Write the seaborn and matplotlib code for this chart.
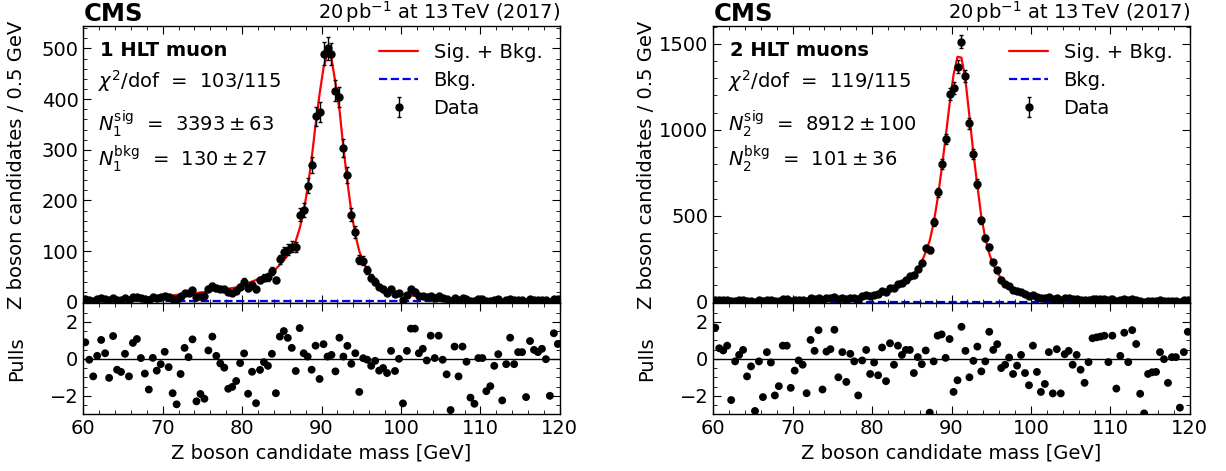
import numpy as np
import matplotlib
matplotlib.use("Agg")
import matplotlib.pyplot as plt
import seaborn as sns
from matplotlib.ticker import AutoMinorLocator, MultipleLocator
from matplotlib.lines import Line2D

# ---------------- data ----------------
mass_range = [60.0, 120.0]
bin_width = 0.5

data_1mu = [6, 4, 2, 5, 7, 6, 3, 8, 4, 4,
            7, 4, 9, 10, 8, 6, 4, 9, 8, 10,
            12, 10, 6, 5, 11, 18, 17, 23, 10, 12,
            12, 26, 32, 27, 26, 25, 20, 18, 21, 30,
            40, 27, 33, 25, 43, 47, 49, 60, 43, 84,
            99, 103, 109, 108, 172, 181, 229, 270, 366, 375,
            490, 500, 489, 417, 404, 303, 250, 172, 138, 83,
            81, 62, 47, 40, 30, 25, 18, 25, 16, 17,
            4, 14, 25, 20, 11, 11, 9, 12, 8, 11,
            7, 5, 1, 8, 4, 7, 5, 1, 1, 5,
            5, 1, 2, 4, 5, 0, 4, 6, 3, 4,
            4, 0, 5, 4, 4, 4, 3, 0, 6, 5]

fit_1mu = [4.1, 4.2, 4.4, 4.6, 4.8, 5.0, 5.2, 5.4, 5.6, 5.8,
           6.1, 6.5, 6.9, 7.4, 7.9, 8.4, 8.9, 9.4, 9.9, 10.5,
           11.2, 12.0, 12.7, 13.5, 14.3, 15.0, 15.7, 16.5, 17.4, 18.4,
           19.3, 20.4, 21.5, 22.7, 23.8, 25.0, 26.0, 27.0, 28.5, 31.0,
           34, 37, 40, 43, 47, 50, 54, 59, 65, 73,
           82, 92, 104, 120, 145, 178, 225, 282, 350, 410,
           462, 490, 480, 432, 380, 305, 237, 178, 132, 100,
           78, 62, 50, 41, 34, 28, 24, 21, 18.5, 16.5,
           15, 13.5, 12.5, 11.5, 10.6, 9.9, 9.3, 8.8, 8.3, 7.9,
           7.5, 7.1, 6.8, 6.5, 6.2, 5.9, 5.7, 5.5, 5.3, 5.1,
           4.9, 4.8, 4.6, 4.5, 4.4, 4.3, 4.2, 4.1, 4.0, 3.9,
           3.8, 3.7, 3.6, 3.6, 3.5, 3.4, 3.4, 3.3, 3.3, 3.2]

bkg_1mu = [1.1, 1.1]

pulls_1mu = [0.89, -0.05, -0.95, 0.16, 1.02, 0.3, -1.03, 1.23, -0.59, -0.71,
             0.27, -0.95, 0.86, 1.07, 0.04, -0.8, -1.66, 0.05, -0.64, -0.29,
             0.38, -0.45, -1.86, -2.46, -0.82, 0.59, 0.09, 1.05, -2.3, -1.9,
             -2.16, 0.45, 1.2, 0.16, -0.25, -0.48, -1.62, -1.52, -1.2, -0.23,
             0.29, -1.89, -0.7, -2.4, -0.6, -0.18, -0.38, 0.27, -1.86, 1.2,
             1.5, 1.13, 0.59, -0.66, 1.66, 0.3, 0.12, -0.59, 0.71, -1.09,
             0.79, 0.12, 0.21, -0.68, 1.14, 0.12, 0.7, -0.27, 0.3, -1.79,
             0.03, -0.05, -0.38, -0.11, -0.64, -0.5, -0.77, 0.43, -0.66, 0.0,
             -2.41, 0.43, 1.63, 1.63, 0.3, 0.54, -0.09, 1.25, 0.04, 1.25,
             -0.05, -0.84, -2.77, 0.66, -0.95, 0.66, -0.16, -2.1, -2.43, 0.04,
             0.04, -1.75, -1.48, -0.38, 0.25, -2.25, -0.29, 1.14, -0.29, 0.36,
             0.36, -2.07, 0.96, 0.48, 0.36, 0.54, -0.02, -2.0, 1.38, 0.8]

data_2mu = [11, 9, 8, 9, 2, 7, 9, 9, 6, 7,
            1, 9, 3, 11, 9, 4, 6, 14, 14, 7,
            11, 13, 13, 7, 19, 17, 22, 10, 19, 20,
            25, 15, 22, 16, 24, 24, 16, 31, 37, 33,
            42, 43, 61, 54, 80, 80, 102, 111, 129, 148,
            154, 193, 228, 312, 302, 463, 636, 802, 946, 1209,
            1242, 1368, 1513, 1314, 1039, 860, 686, 473, 370, 316,
            229, 186, 128, 105, 89, 70, 60, 57, 43, 33,
            41, 29, 20, 20, 27, 14, 23, 11, 19, 19,
            15, 16, 12, 9, 13, 17, 16, 16, 15, 10,
            14, 5, 10, 14, 9, 14, 11, 3, 0, 6,
            6, 6, 9, 7, 4, 7, 7, 0, 8, 10]

fit_2mu = [7, 7, 7, 7, 7.5, 7.5, 8, 8, 8.5, 8.5,
           9, 9, 9.5, 9.5, 10, 10.5, 11, 11.5, 12, 12.5,
           13, 13.5, 14, 14.5, 15, 15.5, 16, 16.5, 17, 17.5,
           18, 19, 20, 21.5, 23, 25, 28, 31, 34, 38,
           43, 49, 56, 64, 73, 83, 95, 109, 124, 142,
           164, 192, 232, 290, 355, 460, 600, 770, 955, 1150,
           1320, 1425, 1420, 1290, 1080, 865, 675, 495, 370, 280,
           215, 170, 136, 110, 90, 76, 64, 55, 48, 42,
           37, 33, 30, 27, 25, 23, 21, 19.5, 18, 17,
           16, 15.2, 14.5, 13.8, 13.2, 12.6, 12.1, 11.6, 11.2, 10.8,
           10.4, 10.1, 9.8, 9.5, 9.2, 9.0, 8.8, 8.6, 8.4, 8.2,
           8.0, 7.8, 7.6, 7.5, 7.3, 7.2, 7.0, 6.9, 6.8, 6.7]

bkg_2mu = [0.85, 0.85]

pulls_2mu = [1.68, 0.57, 0.45, 0.71, -2.23, -0.14, 0.21, 0.48, -0.95, -0.41,
             -2.82, -0.14, -2.07, 0.36, -0.2, -1.98, -1.48, 0.71, 0.71, -1.57,
             -0.64, -0.09, -0.32, -1.86, 1.02, 0.43, 1.55, -1.66, 0.39, 0.52,
             1.57, -1.0, 0.36, -1.25, 0.27, -0.14, -1.98, -0.09, 0.48, -0.82,
             -0.2, -0.89, 0.61, -1.21, 0.84, -0.32, 0.71, 0.21, 0.48, 0.48,
             -0.77, 0.09, -0.29, 0.45, -2.91, -0.14, 1.25, 1.32, 0.05, 1.07,
             -1.79, -1.16, 1.73, 0.43, -1.0, -0.11, 0.66, -0.68, -0.14, 1.46,
             0.48, 0.79, -0.5, -0.32, 0.07, -0.82, -0.37, 0.21, -0.77, -1.43,
             0.71, -0.71, -1.79, -1.36, 0.36, -1.87, 0.52, -1.87, 0.25, 0.43,
             -0.32, 0.21, -0.59, -1.3, -0.18, 1.11, 1.16, 1.2, 1.25, -0.18,
             1.25, -1.61, 0.16, 1.41, -0.18, 1.55, 0.8, -1.89, -2.95, -0.82,
             -0.73, -0.71, 0.36, -0.02, -1.3, 0.09, 0.09, -2.64, 0.36, 1.46]

panel_titles = ["1 HLT muon", "2 HLT muons"]
chi2_texts = ["103/115", "119/115"]
nsig_texts = [r"3393 \pm 63", r"8912 \pm 100"]
nbkg_texts = [r"130 \pm 27", r"101 \pm 36"]
index_labels = ["1", "2"]
ymax_main = [545, 1606]
ymajor_main = [100, 500]

# ---------------- style ----------------
sns.set_style("ticks")
plt.rcParams.update({
    "font.family": ["DejaVu Sans"],
    "mathtext.fontset": "dejavusans",
    "font.size": 14,
    "text.color": "black",
    "axes.labelcolor": "black",
    "axes.linewidth": 1.0,
    "xtick.direction": "in",
    "ytick.direction": "in",
    "xtick.top": True,
    "ytick.right": True,
    "xtick.major.size": 6,
    "ytick.major.size": 6,
    "xtick.minor.size": 3,
    "ytick.minor.size": 3,
    "xtick.color": "black",
    "ytick.color": "black",
    "axes.edgecolor": "black",
    "xtick.labelsize": 14,
    "ytick.labelsize": 14,
})

W, H = 1226, 471
fig = plt.figure(figsize=(W / 100, H / 100), dpi=100)

edges = np.linspace(mass_range[0], mass_range[1], int((mass_range[1] - mass_range[0]) / bin_width) + 1)
centers = 0.5 * (edges[:-1] + edges[1:])

panels = [
    (83.3, data_1mu, fit_1mu, bkg_1mu, pulls_1mu),
    (713.3, data_2mu, fit_2mu, bkg_2mu, pulls_2mu),
]

for i, (left_px, data, fit, bkg, pulls) in enumerate(panels):
    width_px = 476.5
    ax = fig.add_axes([left_px / W, (H - 303.3) / H, width_px / W, (303.3 - 25.7) / H])
    axp = fig.add_axes([left_px / W, (H - 414.3) / H, width_px / W, (414.3 - 303.3) / H], sharex=ax)

    data_arr = np.array(data, dtype=float)
    sns.lineplot(x=centers, y=fit, ax=ax, color="red", lw=1.6, estimator=None, zorder=2)
    sns.lineplot(x=mass_range, y=bkg, ax=ax, color="blue", lw=1.6, estimator=None,
                 linestyle="--", zorder=2)
    eb = ax.errorbar(centers, data_arr, yerr=np.sqrt(data_arr), fmt="o", color="black",
                     ms=5.0, elinewidth=1.0, capsize=1.6, capthick=1.0, zorder=3)

    ax.set_xlim(mass_range)
    ax.set_ylim(-3 * (1 + 2 * i), ymax_main[i])
    ax.yaxis.set_major_locator(MultipleLocator(ymajor_main[i]))
    ax.yaxis.set_minor_locator(AutoMinorLocator(5))
    ax.xaxis.set_major_locator(MultipleLocator(10))
    ax.xaxis.set_minor_locator(AutoMinorLocator(5))
    ax.tick_params(axis="x", labelbottom=False)
    ax.set_ylabel("Z boson candidates / 0.5 GeV", fontsize=14)
    ax.yaxis.set_label_coords(-0.121, 0.5)
    ax.set_xlabel("")

    handles = [Line2D([], [], color="red", lw=1.6),
               Line2D([], [], color="blue", lw=1.6, linestyle="--"),
               eb]
    ax.legend(handles=handles, labels=["Sig. + Bkg.", "Bkg.", "Data"], loc="upper right",
              frameon=False, fontsize=14, handlelength=2.0, labelspacing=0.45)

    ax.text(0.0, 1.018, "CMS", transform=ax.transAxes, fontsize=17.5, fontweight="bold",
            ha="left", va="baseline")
    ax.text(1.0, 1.024, r"$20\,\mathrm{pb}^{-1}$ at $13\,\mathrm{TeV}$ (2017)",
            transform=ax.transAxes, fontsize=14, ha="right", va="baseline")

    ax.text(0.034, 0.945, panel_titles[i], transform=ax.transAxes, fontsize=14,
            fontweight="bold", ha="left", va="top")
    ax.text(0.030, 0.80, r"$\chi^2$/dof  =  " + chi2_texts[i], transform=ax.transAxes,
            fontsize=14, ha="left", va="center")
    k = index_labels[i]
    ax.text(0.030, 0.648, r"$N_{%s}^{\mathrm{sig}}$  =  $%s$" % (k, nsig_texts[i]),
            transform=ax.transAxes, fontsize=14, ha="left", va="center")
    ax.text(0.030, 0.522, r"$N_{%s}^{\mathrm{bkg}}$  =  $%s$" % (k, nbkg_texts[i]),
            transform=ax.transAxes, fontsize=14, ha="left", va="center")

    # pulls
    axp.axhline(0, color="black", lw=1.0, zorder=1)
    sns.scatterplot(x=centers, y=pulls, ax=axp, color="black", s=32, edgecolor="none",
                    zorder=3)
    axp.set_ylim(-3, 3)
    axp.yaxis.set_major_locator(MultipleLocator(2))
    axp.yaxis.set_minor_locator(AutoMinorLocator(4))
    axp.set_xlim(mass_range)
    axp.set_xlabel("Z boson candidate mass [GeV]", fontsize=14)
    axp.set_ylabel("Pulls", fontsize=14)
    axp.yaxis.set_label_coords(-0.121, 0.5)

fig.savefig("out.png", dpi=100)
